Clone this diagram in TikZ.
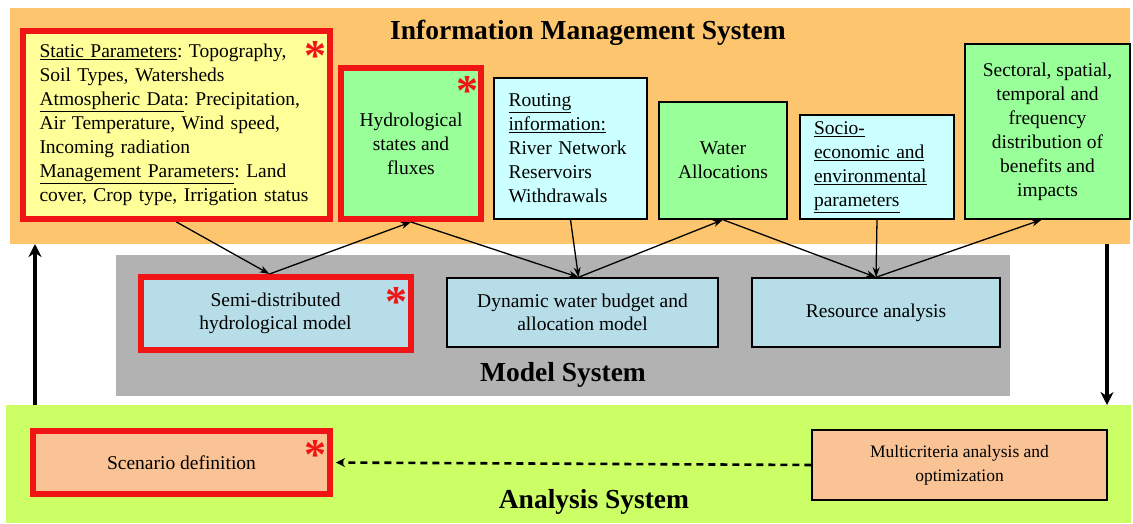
\documentclass[tikz,border=0pt]{standalone}
\usepackage{fontspec}
\setmainfont{Liberation Serif}
\usetikzlibrary{arrows.meta}
\definecolor{bandorange}{RGB}{253,198,110}
\definecolor{bandgray}{RGB}{178,178,178}
\definecolor{bandgreen}{RGB}{204,255,102}
\definecolor{fillyellow}{RGB}{255,255,153}
\definecolor{fillgreen}{RGB}{153,255,153}
\definecolor{fillcyan}{RGB}{204,255,255}
\definecolor{fillblue}{RGB}{183,222,232}
\definecolor{fillpeach}{RGB}{250,195,150}
\definecolor{starred}{RGB}{240,20,20}
\tikzset{
  band/.style={draw=none, inner sep=0pt},
  box/.style={draw=black, line width=1.5pt, inner sep=4pt},
  redbox/.style={draw=starred, line width=6pt, inner sep=4pt},
  bigtxt/.style={font=\rmfamily\frenchspacing\fontsize{19.5}{24}\selectfont},
  smalltxt/.style={font=\rmfamily\frenchspacing\fontsize{19.5}{23}\selectfont},
  multitxt/.style={font=\rmfamily\frenchspacing\fontsize{17.5}{24}\selectfont},
  title/.style={font=\rmfamily\bfseries\fontsize{27.5}{30}\selectfont},
  star/.style={text=starred, font=\bfseries\fontsize{44}{44}\selectfont, inner sep=0pt},
  link/.style={-{Stealth[length=10pt,width=7pt]}, line width=1.3pt},
  bigarrow/.style={-{Stealth[length=13pt,width=13pt]}, line width=4pt},
  dashlink/.style={-{Stealth[length=9pt,width=9pt]}, line width=2.6pt, dash pattern=on 7pt off 5pt},
}
\begin{document}
\begin{tikzpicture}[x=1pt,y=-1pt]
\useasboundingbox[fill=white] (0,0) rectangle (1133,523);
% bands
\node[band, fill=bandorange, minimum width=1120, minimum height=236] (ims) at (570,126) {};
\node[band, fill=bandgray, minimum width=894, minimum height=141] (ms) at (563,325.5) {};
\node[band, fill=bandgreen, minimum width=1125, minimum height=118] (as) at (568.5,464) {};
\node[title] (imstitle) at (588,33) {Information Management System};
\node[title] (mstitle) at (563,375) {Model System};
\node[title] (astitle) at (594,502) {Analysis System};
% information boxes
\node[redbox, fill=fillyellow, minimum width=307, minimum height=188, text width=274, align=left, bigtxt] (static) at (176.5,125)
{\underline{Static Parameters}: Topography,\\
Soil Types, Watersheds\\
\underline{Atmospheric Data}: Precipitation,\\
Air Temperature, Wind speed,\\
Incoming radiation\\
\underline{Management Parameters}: Land\\
cover, Crop type, Irrigation status};
\node[redbox, fill=fillgreen, minimum width=140, minimum height=151, align=center, bigtxt] (hydro) at (411,143.5)
{Hydrological\\ states and\\ fluxes};
\node[box, fill=fillcyan, minimum width=153, minimum height=141, text width=124, align=left, bigtxt] (routing) at (570.5,148.5)
{\underline{Routing}\\ \underline{information:}\\ River Network\\ Reservoirs\\ Withdrawals};
\node[box, fill=fillgreen, minimum width=128, minimum height=117, align=center, bigtxt] (alloc) at (723,160.5)
{Water\\ Allocations};
\node[box, fill=fillcyan, minimum width=154, minimum height=104, text width=126, align=left, bigtxt] (socio) at (877,167)
{\underline{Socio-}\\ \underline{economic and}\\ \underline{environmental}\\ \underline{parameters}};
\node[box, fill=fillgreen, minimum width=165, minimum height=175, align=center, bigtxt] (sect) at (1047.5,131.5)
{Sectoral, spatial,\\ temporal and\\ frequency\\ distribution of\\ benefits and\\ impacts};
% model boxes
\node[redbox, fill=fillblue, minimum width=270, minimum height=73, align=center, smalltxt] (semi) at (275.5,313.5)
{Semi-distributed\\ hydrological model};
\node[box, fill=fillblue, minimum width=271, minimum height=69, align=center, smalltxt] (dyn) at (582.5,312.5)
{Dynamic water budget and\\ allocation model};
\node[box, fill=fillblue, minimum width=248, minimum height=69, align=center, smalltxt] (res) at (876,312.5)
{Resource analysis};
% analysis boxes
\node[redbox, fill=fillpeach, minimum width=297, minimum height=63, smalltxt] (scen) at (181.5,462.5)
{Scenario definition};
\node[box, fill=fillpeach, minimum width=295, minimum height=70, align=center, multitxt] (multi) at (959.5,465)
{Multicriteria analysis and\\ optimization};
% asterisks
\node[star] (s1) at (315,56) {*};
\node[star] (s2) at (467,91) {*};
\node[star] (s3) at (396,302) {*};
\node[star] (s4) at (315,455) {*};
% connectors
\draw[link] (static.south) -- ([xshift=-6pt]semi.north);
\draw[link] ([xshift=-6pt]semi.north) -- (hydro.south);
\draw[link] (hydro.south) -- ([xshift=-4pt]dyn.north);
\draw[link] (routing.south) -- ([xshift=-4pt]dyn.north);
\draw[link] ([xshift=-4pt]dyn.north) -- (alloc.south);
\draw[link] (alloc.south) -- (res.north);
\draw[link] (socio.south) -- (res.north);
\draw[link] (res.north) -- ([xshift=-6pt]sect.south);
\coordinate (lb) at (35,405);
\coordinate (lt) at (35,244);
\coordinate (rt) at (1107,244);
\coordinate (rb) at (1107,405);
\draw[bigarrow] (lb) -- (lt);
\draw[bigarrow] (rt) -- (rb);
\draw[dashlink] (multi.west) -- ([xshift=3pt]scen.east);
\end{tikzpicture}
\end{document}
